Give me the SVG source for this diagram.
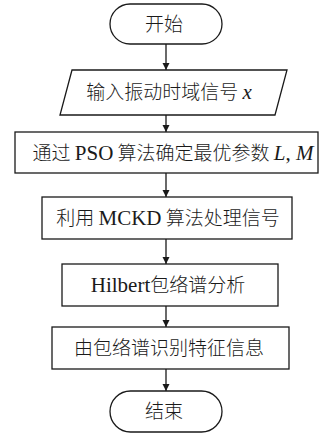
<svg xmlns="http://www.w3.org/2000/svg" width="333" height="434" viewBox="0 0 333 434">
<style>
.s{fill:#fff;stroke:#1a1a1a;stroke-width:1.3}
.t{font-family:"Noto Sans CJK SC","Liberation Sans",sans-serif;font-size:19px;font-weight:300;fill:#1a1a1a;text-anchor:middle}
.r{font-family:"Liberation Serif",serif;font-size:21px;font-weight:normal}
.i{font-family:"Liberation Serif",serif;font-size:21px;font-weight:normal;font-style:italic}
.c{stroke:#1a1a1a;stroke-width:1.3;fill:none}
</style>
<defs>
<marker id="a" viewBox="0 0 10 10" refX="10" refY="5" markerWidth="7" markerHeight="9" markerUnits="userSpaceOnUse" orient="auto">
<path d="M0,0 L10,5 L0,10 Z" fill="#1a1a1a"/>
</marker>
</defs>
<g id="connectors">
<line class="c" x1="166" y1="44" x2="166" y2="70" marker-end="url(#a)"/>
<line class="c" x1="166" y1="115" x2="166" y2="132" marker-end="url(#a)"/>
<line class="c" x1="166" y1="173" x2="166" y2="197" marker-end="url(#a)"/>
<line class="c" x1="166" y1="239" x2="166" y2="264" marker-end="url(#a)"/>
<line class="c" x1="166" y1="306" x2="166" y2="327" marker-end="url(#a)"/>
<line class="c" x1="166" y1="369" x2="166" y2="391" marker-end="url(#a)"/>
</g>
<g id="start">
<rect class="s" x="110" y="4" width="112" height="40" rx="20"/>
<text class="t" x="164" y="31">开始</text>
</g>
<g id="input">
<polygon class="s" points="72,70 287,70 275,115 60,115"/>
<text class="t" x="169" y="99">输入振动时域信号 <tspan class="i">x</tspan></text>
</g>
<g id="pso">
<rect class="s" x="15" y="132" width="303" height="41"/>
<text class="t" x="173" y="160">通过 <tspan class="r">PSO</tspan> 算法确定最优参数 <tspan class="i">L</tspan><tspan class="r">, </tspan><tspan class="i">M</tspan></text>
</g>
<g id="mckd">
<rect class="s" x="42" y="197" width="250" height="42"/>
<text class="t" x="168" y="225">利用 <tspan class="r">MCKD</tspan> 算法处理信号</text>
</g>
<g id="hilbert">
<rect class="s" x="62" y="264" width="216" height="42"/>
<text class="t" x="168" y="292"><tspan class="r">Hilbert</tspan>包络谱分析</text>
</g>
<g id="identify">
<rect class="s" x="52" y="327" width="237" height="42"/>
<text class="t" x="169" y="355">由包络谱识别特征信息</text>
</g>
<g id="end">
<rect class="s" x="110" y="391" width="112" height="41" rx="20.5"/>
<text class="t" x="164" y="418">结束</text>
</g>
</svg>
